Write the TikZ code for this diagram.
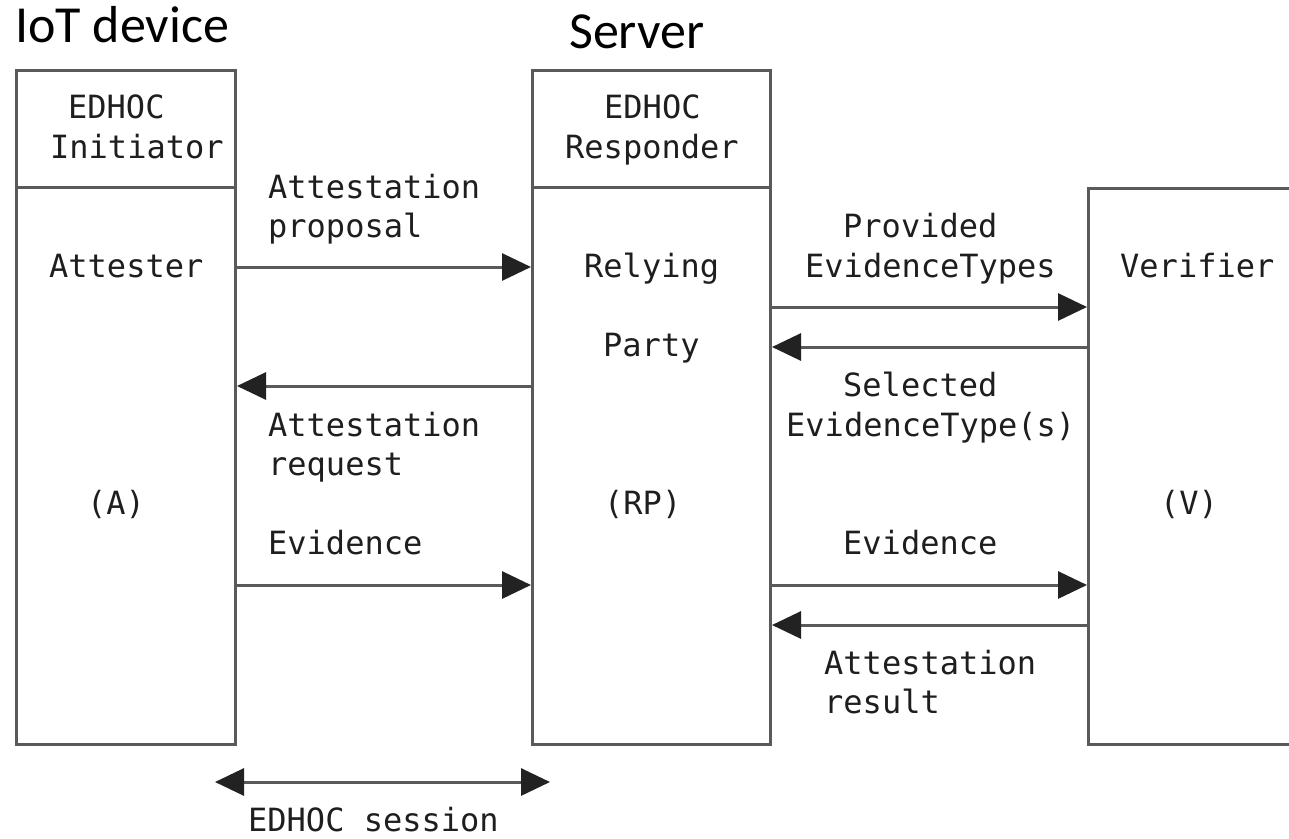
\documentclass[tikz,border=0pt]{standalone}
\usepackage{fontspec}
\usetikzlibrary{arrows.meta}
\newfontfamily\monofam{DejaVu Sans Mono}
\newfontfamily\titlefam{Carlito}
\definecolor{frame}{HTML}{5A5A5A}
\definecolor{tipcol}{HTML}{222222}
\definecolor{ink}{HTML}{1E1E1E}
\tikzset{
  box/.style={draw=frame, line width=3pt, rectangle, inner sep=0pt, anchor=north west},
  lbl/.style={font=\monofam\fontsize{32}{40}\selectfont, text=ink, inner sep=0pt, anchor=base west},
  ttl/.style={font=\titlefam\fontsize{52}{60}\selectfont, text=black, inner sep=0pt, anchor=base west},
  msg/.style={draw=frame, line width=3pt, -{Triangle[length=29pt,width=27pt,color=tipcol]}},
  twoway/.style={draw=frame, line width=3pt, {Triangle[length=29pt,width=27pt,color=tipcol]}-{Triangle[length=29pt,width=27pt,color=tipcol]}},
  divider/.style={draw=frame, line width=3pt}
}
\begin{document}
\begin{tikzpicture}[x=1pt,y=-1pt]
\clip (0,0) rectangle (1289,838);
\fill[white] (0,0) rectangle (1289,838);

% titles
\node[ttl] (tiot) at (15,42) {IoT device};
\node[ttl] (tsrv) at (569,48) {Server};

% the three parties
\node[box, minimum width=219pt, minimum height=674pt] (A) at (15,69) {};
\node[box, minimum width=238pt, minimum height=674pt] (RP) at (531,69) {};
\node[box, minimum width=260pt, minimum height=556pt] (V) at (1087,187) {};

% header dividers
\coordinate (Ahd) at (15,187);
\coordinate (RPhd) at (531,187);
\draw[divider] (A.west |- Ahd) -- (A.east |- Ahd);
\draw[divider] (RP.west |- RPhd) -- (RP.east |- RPhd);

% text inside the boxes
\node[lbl] (aedhoc) at (68,118) {EDHOC};
\node[lbl] (ainit) at (50,158) {Initiator};
\node[lbl] (aatt) at (49,277) {Attester};
\node[lbl] (aabbr) at (87,514) {(A)};

\node[lbl] (redhoc) at (604,118) {EDHOC};
\node[lbl] (rresp) at (565,158) {Responder};
\node[lbl] (rrely) at (584,277) {Relying};
\node[lbl] (rparty) at (603,356) {Party};
\node[lbl] (rabbr) at (604,514) {(RP)};

\node[lbl] (vver) at (1120,277) {Verifier};
\node[lbl] (vabbr) at (1160,514) {(V)};

% messages between device and server
\coordinate (m1) at (0,267);
\coordinate (m2) at (0,386);
\coordinate (m3) at (0,585);
\draw[msg] (A.east |- m1) -- (RP.west |- m1);
\draw[msg] (RP.west |- m2) -- (A.east |- m2);
\draw[msg] (A.east |- m3) -- (RP.west |- m3);

\node[lbl] (l1a) at (268,198) {Attestation};
\node[lbl] (l1b) at (268,237) {proposal};
\node[lbl] (l2a) at (268,436) {Attestation};
\node[lbl] (l2b) at (268,475) {request};
\node[lbl] (l3) at (268,554) {Evidence};

% messages between server and verifier
\coordinate (n1) at (0,307);
\coordinate (n2) at (0,347);
\coordinate (n3) at (0,585);
\coordinate (n4) at (0,625);
\draw[msg] (RP.east |- n1) -- (V.west |- n1);
\draw[msg] (V.west |- n2) -- (RP.east |- n2);
\draw[msg] (RP.east |- n3) -- (V.west |- n3);
\draw[msg] (V.west |- n4) -- (RP.east |- n4);

\node[lbl] (k1a) at (843,237) {Provided};
\node[lbl] (k1b) at (805,277) {EvidenceTypes};
\node[lbl] (k2a) at (843,396) {Selected};
\node[lbl] (k2b) at (786,436) {EvidenceType(s)};
\node[lbl] (k3) at (843,554) {Evidence};
\node[lbl] (k4a) at (824,674) {Attestation};
\node[lbl] (k4b) at (824,713) {result};

% session span
\coordinate (sL) at (215,782);
\coordinate (sR) at (550,782);
\draw[twoway] (sL) -- (sR);
\node[lbl] (sess) at (248,831) {EDHOC session};
\end{tikzpicture}
\end{document}
